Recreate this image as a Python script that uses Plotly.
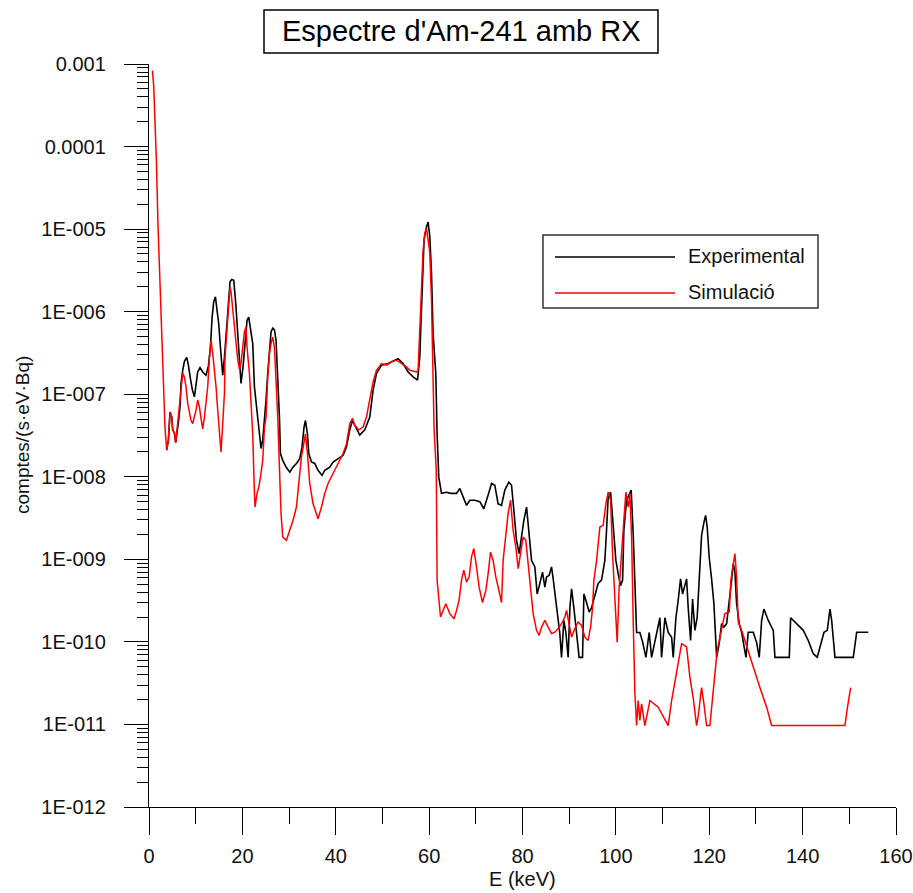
import plotly.graph_objects as go

# ---------------- data ----------------
exp_energy_keV = [
    3.79, 4.16, 4.50, 4.86, 5.08, 5.44, 5.72, 6.00, 6.30, 6.64,
    6.86, 7.22, 7.59, 8.08, 8.44, 8.87, 9.30, 9.73, 10.07, 10.43,
    10.93, 11.51, 12.21, 12.73, 13.16, 13.50, 13.86, 14.23, 14.57, 14.93,
    15.30, 15.79, 16.16, 16.58, 16.93, 17.36, 17.72, 18.15, 18.58, 19.01,
    19.43, 19.71, 20.14, 20.57, 21.00, 21.36, 21.73, 22.22, 22.58, 22.93,
    23.29, 23.66, 24.00, 24.36, 24.73, 25.07, 25.43, 25.80, 26.14, 26.51,
    26.87, 27.21, 27.58, 27.94, 28.15, 28.65, 29.36, 30.15, 30.86, 31.58,
    32.29, 32.78, 33.21, 33.51, 33.94, 34.22, 34.80, 35.50, 36.21, 37.07,
    37.65, 38.72, 39.43, 40.50, 41.57, 42.30, 43.00, 43.58, 44.23, 45.15,
    46.22, 47.29, 48.00, 48.72, 49.80, 51.21, 53.35, 54.42, 55.50, 56.57,
    57.51, 58.00, 58.22, 58.50, 58.92, 59.44, 59.78, 60.15, 60.51, 60.85,
    61.43, 61.71, 62.07, 62.65, 63.72, 64.64, 65.87, 66.57, 67.28, 68.01,
    68.72, 69.79, 70.86, 71.72, 72.64, 73.37, 74.07, 74.78, 75.51, 76.21,
    77.07, 77.65, 78.21, 78.72, 79.28, 79.79, 80.29, 80.87, 81.42, 81.94,
    82.65, 83.14, 83.71, 84.29, 84.79, 85.15, 85.71, 86.22, 86.57, 86.93,
    87.42, 88.00, 88.36, 88.86, 89.29, 89.78, 90.15, 90.51, 91.00, 91.58,
    92.13, 92.86, 93.15, 93.72, 94.28, 94.79, 95.50, 96.21, 96.93, 97.64,
    98.00, 98.35, 98.87, 99.42, 100.00, 100.49, 101.00, 101.44, 101.71, 102.29,
    102.85, 103.28, 103.71, 104.07, 104.44, 105.14, 105.72, 106.43, 107.14, 107.65,
    108.36, 109.06, 109.43, 109.79, 110.50, 111.21, 111.94, 112.28, 112.86, 113.35,
    113.86, 114.29, 114.78, 115.15, 115.49, 116.00, 116.43, 116.93, 117.42, 118.00,
    118.36, 118.86, 119.22, 119.56, 119.99, 120.50, 121.00, 121.58, 122.13, 122.65,
    123.14, 123.72, 124.28, 124.79, 125.13, 125.50, 125.86, 126.42, 126.93, 127.28,
    127.86, 128.35, 129.42, 130.15, 130.71, 131.22, 131.71, 132.64, 133.71, 134.07,
    137.14, 137.43, 138.72, 140.14, 141.21, 142.28, 143.14, 143.86, 144.57, 145.28,
    145.86, 146.22, 146.93, 150.85, 151.58, 154.06,
]
exp_counts = [
    2.1e-8, 2.8e-8, 6.1e-8, 5.3e-8, 3.7e-8, 3.4e-8, 2.6e-8, 3.3e-8, 4.6e-8, 7.0e-8,
    1.35e-7, 1.95e-7, 2.5e-7, 2.8e-7, 2.25e-7, 1.55e-7, 1.12e-7, 9.3e-8, 1.23e-7, 1.86e-7,
    2.1e-7, 1.86e-7, 1.7e-7, 2.2e-7, 3.7e-7, 8.3e-7, 1.32e-6, 1.51e-6, 1.04e-6, 7.2e-7,
    3.7e-7, 1.7e-7, 2.8e-7, 6.5e-7, 1.26e-6, 2.3e-6, 2.45e-6, 2.4e-6, 1.26e-6, 5.4e-7,
    2.35e-7, 1.35e-7, 2.14e-7, 4.5e-7, 7.9e-7, 8.6e-7, 6.5e-7, 4.1e-7, 1.23e-7, 7.7e-8,
    4.8e-8, 2.8e-8, 2.2e-8, 2.8e-8, 4.8e-8, 8.5e-8, 1.78e-7, 3.4e-7, 5.7e-7, 6.3e-7,
    6.0e-7, 4.5e-7, 1.62e-7, 5.3e-8, 1.91e-8, 1.58e-8, 1.31e-8, 1.14e-8, 1.31e-8, 1.45e-8,
    1.66e-8, 2.3e-8, 4.0e-8, 4.8e-8, 3.3e-8, 1.91e-8, 1.51e-8, 1.45e-8, 1.2e-8, 1.04e-8,
    1.2e-8, 1.31e-8, 1.51e-8, 1.66e-8, 1.82e-8, 2.3e-8, 3.7e-8, 4.8e-8, 4.0e-8, 3.2e-8,
    3.7e-8, 5.3e-8, 1.12e-7, 1.78e-7, 2.25e-7, 2.35e-7, 2.7e-7, 2.35e-7, 1.86e-7, 1.62e-7,
    1.48e-7, 2.8e-7, 6.5e-7, 2.2e-6, 7.4e-6, 1.07e-5, 1.22e-5, 8.1e-6, 2.9e-6, 5.4e-7,
    1.78e-7, 3.3e-8, 9.9e-9, 6.3e-9, 6.5e-9, 6.3e-9, 6.3e-9, 7.2e-9, 5.7e-9, 4.5e-9,
    5.2e-9, 5.2e-9, 5.0e-9, 4.1e-9, 6.0e-9, 8.3e-9, 7.9e-9, 4.7e-9, 4.5e-9, 6.9e-9,
    8.6e-9, 7.9e-9, 3.6e-9, 1.7e-9, 1.17e-9, 1.86e-9, 2.97e-9, 4.3e-9, 2.05e-9, 9.7e-10,
    8.1e-10, 3.8e-10, 5.1e-10, 7.0e-10, 4.6e-10, 6.1e-10, 6.4e-10, 8.1e-10, 5.8e-10, 3.8e-10,
    2.2e-10, 1.26e-10, 6.5e-11, 1.82e-10, 1.3e-10, 6.5e-11, 2.6e-10, 4.4e-10, 2.6e-10, 1.3e-10,
    6.5e-11, 6.5e-11, 3.8e-10, 3.0e-10, 2.3e-10, 2.6e-10, 3.8e-10, 5.1e-10, 5.6e-10, 9.7e-10,
    2.25e-9, 5.7e-9, 6.5e-9, 2.25e-9, 9.7e-10, 6.7e-10, 4.8e-10, 5.6e-10, 2.25e-9, 5.2e-9,
    6.0e-9, 6.9e-9, 2.05e-9, 3.8e-10, 1.3e-10, 1.3e-10, 1.0e-10, 6.5e-11, 1.3e-10, 6.5e-11,
    1.04e-10, 1.66e-10, 1.96e-10, 6.5e-11, 1.96e-10, 1.3e-10, 1.14e-10, 6.5e-11, 1.96e-10, 3.2e-10,
    5.8e-10, 3.8e-10, 5.1e-10, 5.8e-10, 2.6e-10, 1.04e-10, 3.3e-10, 1.38e-10, 2.0e-10, 6.7e-10,
    1.95e-9, 2.8e-9, 3.4e-9, 2.46e-9, 1.06e-9, 5.8e-10, 2.9e-10, 6.5e-11, 9.5e-11, 1.66e-10,
    1.51e-10, 1.66e-10, 2.9e-10, 5.6e-10, 8.9e-10, 7.0e-10, 2.9e-10, 1.66e-10, 1.31e-10, 1.04e-10,
    6.5e-11, 1.31e-10, 1.31e-10, 9.8e-11, 6.5e-11, 1.82e-10, 2.5e-10, 1.82e-10, 1.38e-10, 6.5e-11,
    6.5e-11, 1.96e-10, 1.66e-10, 1.38e-10, 1.04e-10, 7.2e-11, 6.5e-11, 9.5e-11, 1.31e-10, 1.38e-10,
    2.5e-10, 1.82e-10, 6.5e-11, 6.5e-11, 1.31e-10, 1.31e-10,
]

sim_energy_keV = [
    0.73, 1.01, 1.22, 1.59, 1.93, 2.36, 2.72, 3.09, 3.43, 3.79,
    4.16, 4.50, 4.86, 5.08, 5.44, 5.72, 6.15, 6.51, 6.86, 7.22,
    7.59, 7.93, 8.29, 8.66, 9.00, 9.36, 9.73, 10.07, 10.43, 10.80,
    11.14, 11.51, 11.87, 12.21, 12.58, 12.94, 13.28, 13.65, 14.01, 14.36,
    14.72, 15.08, 15.43, 15.79, 16.16, 16.28, 16.71, 17.08, 17.36, 17.57,
    17.93, 18.30, 18.64, 19.01, 19.37, 19.71, 20.08, 20.44, 20.78, 21.00,
    21.51, 21.86, 22.22, 22.58, 22.71, 23.14, 23.51, 23.87, 24.36, 24.73,
    25.07, 25.43, 25.80, 26.14, 26.51, 26.87, 27.21, 27.58, 27.94, 28.28,
    28.65, 29.44, 30.15, 30.86, 31.58, 32.08, 32.65, 33.15, 33.51, 33.94,
    34.43, 35.14, 36.21, 36.94, 37.65, 38.35, 39.43, 40.50, 41.57, 42.30,
    43.00, 43.58, 44.08, 44.93, 45.85, 46.58, 47.29, 48.00, 48.72, 49.80,
    50.87, 51.94, 53.01, 54.08, 55.15, 55.86, 57.30, 57.64, 58.00, 58.37,
    58.71, 59.07, 59.44, 59.78, 60.15, 60.51, 60.85, 61.07, 61.53, 61.71,
    62.44, 62.87, 63.57, 64.43, 65.35, 65.87, 66.42, 66.94, 67.43, 68.01,
    68.57, 69.08, 69.57, 70.15, 70.71, 71.44, 72.15, 72.64, 73.15, 73.71,
    74.29, 74.87, 75.51, 75.85, 76.43, 76.92, 77.44, 77.99, 78.57, 79.07,
    79.58, 80.14, 80.71, 81.21, 81.72, 82.28, 83.01, 83.57, 84.08, 84.79,
    85.49, 86.22, 86.93, 87.64, 88.36, 89.07, 89.44, 89.99, 90.51, 91.21,
    91.92, 92.65, 93.36, 94.06, 94.58, 95.01, 95.29, 95.87, 96.57, 97.28,
    97.86, 98.35, 98.87, 99.29, 99.79, 100.28, 100.71, 101.22, 101.71, 102.14,
    102.64, 103.00, 103.37, 103.71, 104.07, 104.44, 104.78, 105.14, 105.51, 106.21,
    107.29, 109.06, 110.86, 111.21, 111.94, 112.64, 113.35, 114.08, 115.15, 115.86,
    116.56, 117.29, 117.63, 118.36, 118.86, 119.43, 120.14, 120.72, 121.21, 121.71,
    122.28, 122.99, 123.35, 124.28, 124.64, 125.00, 125.50, 125.86, 126.21, 126.93,
    128.01, 129.42, 130.85, 132.29, 133.36, 149.07, 149.56, 150.29,
]
sim_counts = [
    8.3e-4, 5.4e-4, 2.5e-4, 6.7e-5, 1.1e-5, 1.9e-6, 4.1e-7, 1.3e-7, 3.9e-8, 2.1e-8,
    2.8e-8, 6.1e-8, 5.3e-8, 3.7e-8, 3.4e-8, 2.6e-8, 4.4e-8, 6.8e-8, 1.07e-7, 1.8e-7,
    1.6e-7, 1.23e-7, 7.8e-8, 5.9e-8, 4.8e-8, 4.4e-8, 5.3e-8, 6.4e-8, 8.5e-8, 7.0e-8,
    5.1e-8, 3.8e-8, 5.3e-8, 7.4e-8, 1.23e-7, 2.8e-7, 4.5e-7, 3.1e-7, 2.0e-7, 1.23e-7,
    6.4e-8, 3.2e-8, 2.0e-8, 4.4e-8, 1.03e-7, 2.8e-7, 6.5e-7, 1.26e-6, 2.0e-6, 1.74e-6,
    1.14e-6, 6.5e-7, 4.2e-7, 2.6e-7, 2.0e-7, 2.4e-7, 3.7e-7, 5.7e-7, 6.5e-7, 3.7e-7,
    1.78e-7, 7.7e-8, 3.3e-8, 6.3e-9, 4.3e-9, 6.3e-9, 7.5e-9, 9.9e-9, 1.58e-8, 4.0e-8,
    5.3e-8, 1.62e-7, 3.1e-7, 4.1e-7, 4.9e-7, 3.7e-7, 1.62e-7, 5.3e-8, 1.3e-8, 3.6e-9,
    1.86e-9, 1.7e-9, 2.25e-9, 2.97e-9, 4.3e-9, 8.3e-9, 1.74e-8, 2.5e-8, 3.3e-8, 1.91e-8,
    8.3e-9, 4.7e-9, 3.1e-9, 4.3e-9, 6.3e-9, 8.3e-9, 1.09e-8, 1.45e-8, 1.91e-8, 2.5e-8,
    4.4e-8, 5.1e-8, 4.2e-8, 3.7e-8, 4.0e-8, 5.3e-8, 8.5e-8, 1.41e-7, 1.95e-7, 2.35e-7,
    2.25e-7, 2.47e-7, 2.58e-7, 2.35e-7, 2.14e-7, 1.95e-7, 1.86e-7, 1.95e-7, 5.4e-7, 2.2e-6,
    5.6e-6, 8.9e-6, 1.02e-5, 7.4e-6, 5.1e-6, 1.38e-6, 2.14e-7, 3.7e-8, 1.2e-8, 5.6e-10,
    2.0e-10, 2.3e-10, 2.9e-10, 2.2e-10, 1.91e-10, 2.4e-10, 3.2e-10, 5.6e-10, 7.4e-10, 5.3e-10,
    6.1e-10, 1.07e-9, 1.35e-9, 8.1e-10, 4.6e-10, 3.0e-10, 4.2e-10, 6.7e-10, 1.22e-9, 9.7e-10,
    6.1e-10, 4.4e-10, 3.0e-10, 9.7e-10, 2.05e-9, 3.6e-9, 5.2e-9, 2.25e-9, 1.41e-9, 7.7e-10,
    1.17e-9, 1.86e-9, 1.7e-9, 8.9e-10, 3.8e-10, 2.2e-10, 1.38e-10, 1.2e-10, 1.51e-10, 1.82e-10,
    1.51e-10, 1.26e-10, 1.31e-10, 1.45e-10, 1.66e-10, 2.0e-10, 2.4e-10, 1.66e-10, 1.14e-10, 1.45e-10,
    1.74e-10, 1.58e-10, 1.14e-10, 1.04e-10, 1.51e-10, 2.6e-10, 5.6e-10, 9.7e-10, 2.46e-9, 2.58e-9,
    4.7e-9, 6.5e-9, 5.2e-9, 1.17e-9, 3.8e-10, 9.9e-11, 4.6e-10, 1.41e-9, 2.97e-9, 6.5e-9,
    4.3e-9, 6.3e-9, 1.86e-9, 1.82e-10, 2.4e-11, 9.7e-12, 1.95e-11, 1.12e-11, 1.78e-11, 9.7e-12,
    1.95e-11, 1.62e-11, 1.07e-11, 9.7e-12, 1.95e-11, 3.4e-11, 5.4e-11, 9.5e-11, 8.7e-11, 3.7e-11,
    2.1e-11, 9.7e-12, 1.25e-11, 2.8e-11, 1.78e-11, 9.7e-12, 9.7e-12, 1.95e-11, 4.1e-11, 7.9e-11,
    1.14e-10, 1.66e-10, 2.2e-10, 2.3e-10, 5.6e-10, 7.7e-10, 1.17e-9, 6.1e-10, 1.74e-10, 1.38e-10,
    8.7e-11, 5.0e-11, 2.8e-11, 1.62e-11, 9.7e-12, 9.7e-12, 1.55e-11, 2.8e-11,
]

y_tick_values = [1e-3, 1e-4, 1e-5, 1e-6, 1e-7, 1e-8, 1e-9, 1e-10, 1e-11, 1e-12]
y_tick_labels = ["0.001", "0.0001", "1E-005", "1E-006", "1E-007",
                 "1E-008", "1E-009", "1E-010", "1E-011", "1E-012"]
x_tick_values = [0, 20, 40, 60, 80, 100, 120, 140, 160]

series_names = ["Experimental", "Simulació"]
chart_title = "Espectre d'Am-241 amb RX"
x_title = "E (keV)"
y_title = "comptes/(s·eV·Bq)"

# ---------------- layout geometry ----------------
W, H = 913, 893
ML, MR, MT, MB = 149, 17, 64, 86
PW, PH = W - ML - MR, H - MT - MB
FONT = "Liberation Sans, Arial, sans-serif"


def px(x):
    return (x - ML) / PW


def py(y):
    return (H - MB - y) / PH


fig = go.Figure()
fig.add_trace(go.Scatter(x=exp_energy_keV, y=exp_counts, mode="lines",
                         name=series_names[0], showlegend=False,
                         line=dict(color="#000000", width=1.6)))
fig.add_trace(go.Scatter(x=sim_energy_keV, y=sim_counts, mode="lines",
                         name=series_names[1], showlegend=False,
                         line=dict(color="#ff0000", width=1.5)))

axis_common = dict(showline=True, linecolor="black", linewidth=1.4,
                   ticks="outside", tickcolor="black", tickwidth=1.3,
                   showgrid=False, zeroline=False,
                   tickfont=dict(family=FONT, size=20, color="#111111"))

fig.update_xaxes(range=[0, 160], tickmode="array", tickvals=x_tick_values,
                 ticklen=27, ticklabelstandoff=4,
                 minor=dict(ticks="outside", ticklen=16, dtick=10, tick0=0,
                            tickcolor="black", tickwidth=1.3, showgrid=False),
                 **axis_common)
fig.update_yaxes(type="log", range=[-12, -3], tickmode="array",
                 tickvals=y_tick_values, ticktext=y_tick_labels,
                 ticklen=24, ticklabelstandoff=14,
                 minor=dict(ticks="outside", ticklen=11, dtick="D1",
                            tickcolor="black", tickwidth=1.2, showgrid=False),
                 **axis_common)

shapes = [
    # title frame
    dict(type="rect", xref="paper", yref="paper",
         x0=px(264), x1=px(658), y0=py(53), y1=py(10),
         line=dict(color="black", width=1.5), fillcolor="white"),
    # legend frame
    dict(type="rect", xref="paper", yref="paper",
         x0=px(543), x1=px(818), y0=py(308), y1=py(235),
         line=dict(color="#333333", width=1.5), fillcolor="rgba(0,0,0,0)"),
    # legend samples
    dict(type="line", xref="paper", yref="paper",
         x0=px(555), x1=px(675), y0=py(257), y1=py(257),
         line=dict(color="#000000", width=1.6)),
    dict(type="line", xref="paper", yref="paper",
         x0=px(555), x1=px(675), y0=py(293), y1=py(293),
         line=dict(color="#ff0000", width=1.5)),
]

annotations = [
    dict(text=chart_title, xref="paper", yref="paper", x=px(461), y=py(31.5),
         xanchor="center", yanchor="middle", showarrow=False,
         font=dict(family=FONT, size=29, color="black")),
    dict(text=series_names[0], xref="paper", yref="paper", x=px(686), y=py(256),
         xanchor="left", yanchor="middle", showarrow=False,
         font=dict(family=FONT, size=20, color="#111111")),
    dict(text=series_names[1], xref="paper", yref="paper", x=px(686), y=py(292),
         xanchor="left", yanchor="middle", showarrow=False,
         font=dict(family=FONT, size=20, color="#111111")),
    dict(text=x_title, xref="paper", yref="paper", x=px(522), y=py(879),
         xanchor="center", yanchor="middle", showarrow=False,
         font=dict(family=FONT, size=20, color="#111111")),
    dict(text=y_title, xref="paper", yref="paper", x=px(22), y=py(435),
         xanchor="center", yanchor="middle", showarrow=False, textangle=-90,
         font=dict(family=FONT, size=19, color="#111111")),
]

fig.update_layout(width=W, height=H, autosize=False,
                  margin=dict(l=ML, r=MR, t=MT, b=MB, autoexpand=False),
                  paper_bgcolor="white", plot_bgcolor="white",
                  showlegend=False, shapes=shapes, annotations=annotations,
                  font=dict(family=FONT, color="black"))

fig.write_html("out.html")
